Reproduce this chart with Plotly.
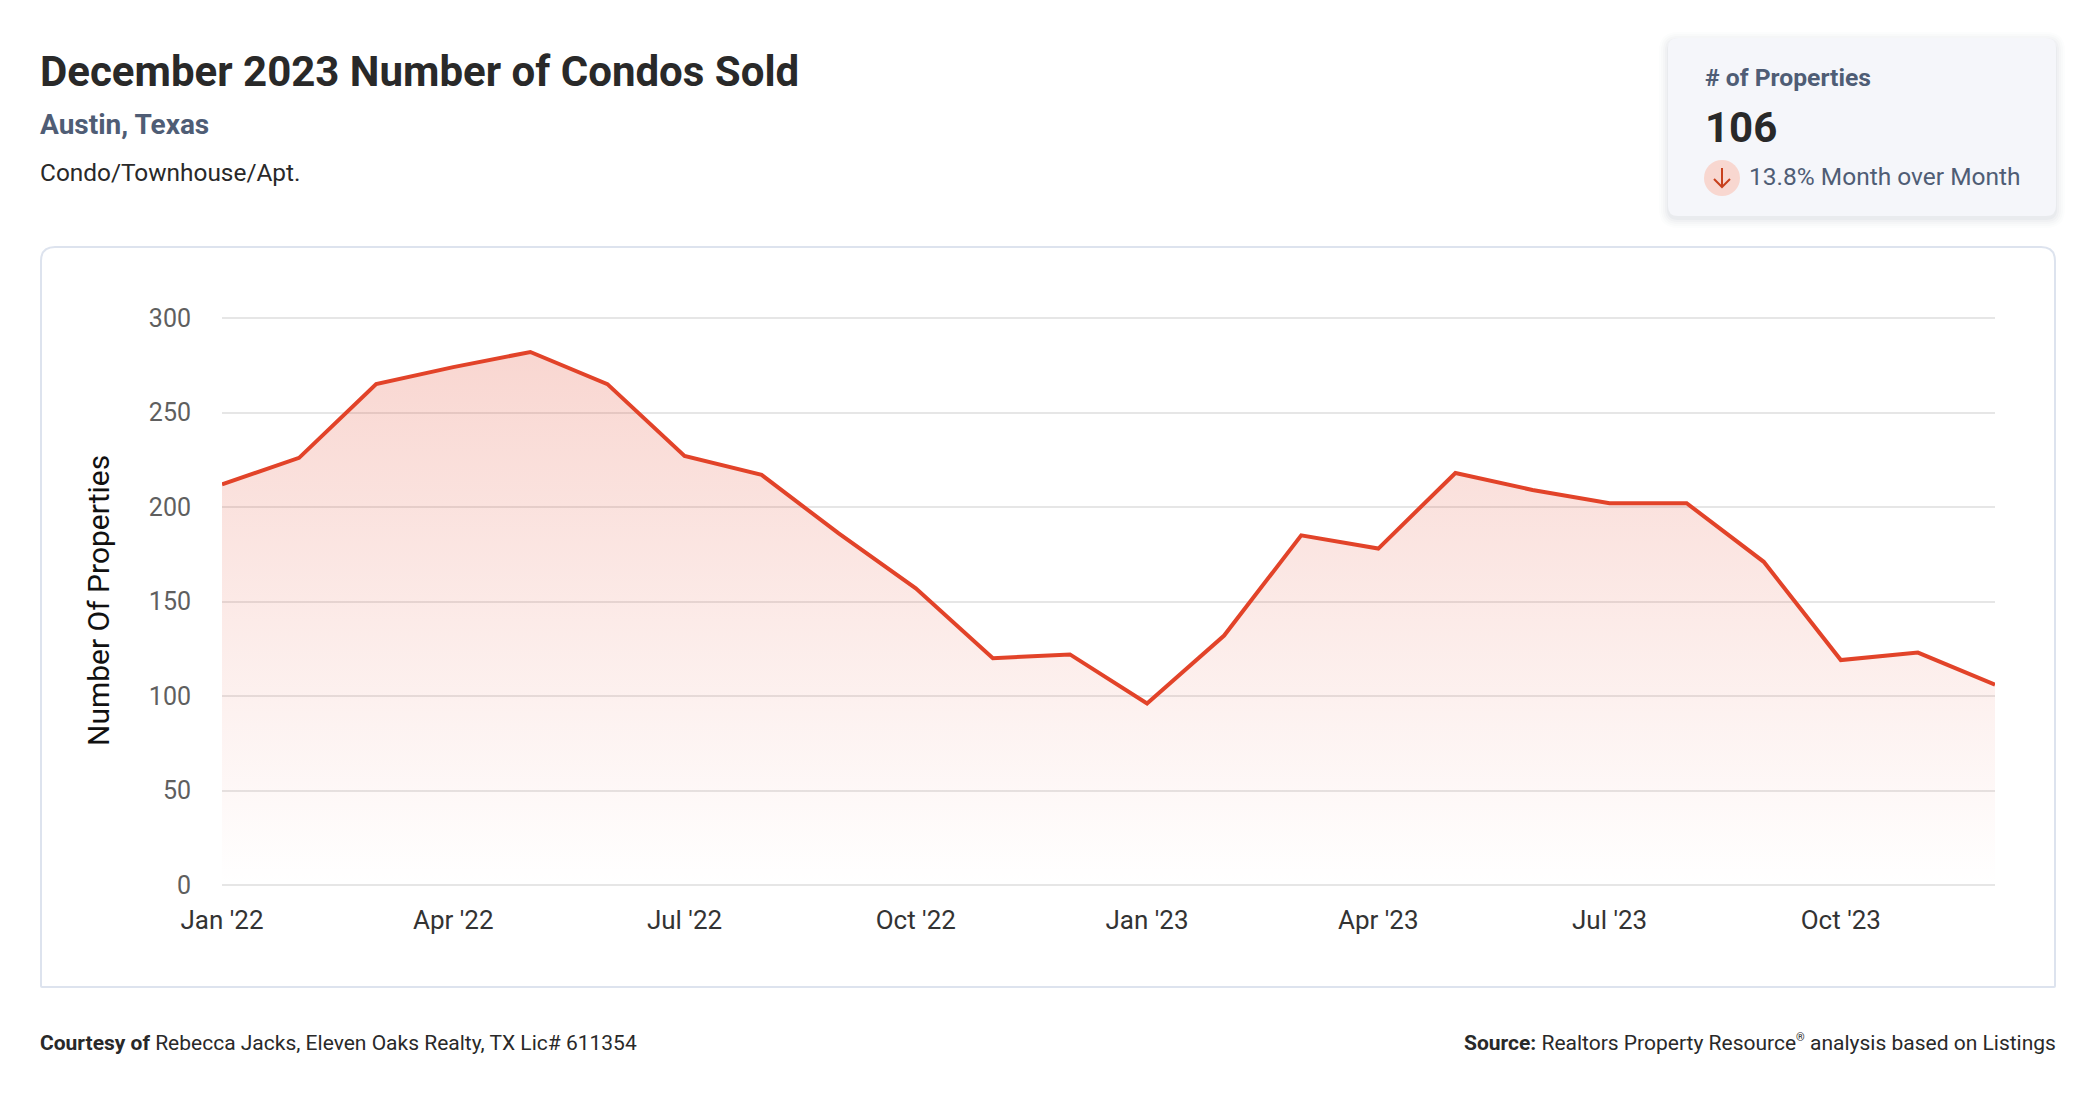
import plotly.graph_objects as go

WIDTH = 2096
HEIGHT = 1100

months = ["Jan '22", "Feb '22", "Mar '22", "Apr '22", "May '22", "Jun '22", "Jul '22", "Aug '22",
          "Sep '22", "Oct '22", "Nov '22", "Dec '22", "Jan '23", "Feb '23", "Mar '23", "Apr '23",
          "May '23", "Jun '23", "Jul '23", "Aug '23", "Sep '23", "Oct '23", "Nov '23", "Dec '23"]
properties = [212, 226, 265, 274, 282, 265, 227, 217, 186, 157, 120, 122,
              96, 132, 185, 178, 218, 209, 202, 202, 171, 119, 123, 106]
y_ticks = [0, 50, 100, 150, 200, 250, 300]
x_ticks = months[::3]


def fx(x):
    return x / WIDTH


def fy(y):
    return 1 - y / HEIGHT


def rounded_rect(x0, y0, x1, y1, r, r_bottom=None):
    # path in paper coordinates, built from pixel positions
    rb = r if r_bottom is None else r_bottom
    pts = [
        f"M {fx(x0 + r)} {fy(y0)}", f"L {fx(x1 - r)} {fy(y0)}",
        f"Q {fx(x1)} {fy(y0)} {fx(x1)} {fy(y0 + r)}", f"L {fx(x1)} {fy(y1 - rb)}",
        f"Q {fx(x1)} {fy(y1)} {fx(x1 - rb)} {fy(y1)}", f"L {fx(x0 + rb)} {fy(y1)}",
        f"Q {fx(x0)} {fy(y1)} {fx(x0)} {fy(y1 - rb)}", f"L {fx(x0)} {fy(y0 + r)}",
        f"Q {fx(x0)} {fy(y0)} {fx(x0 + r)} {fy(y0)}", "Z",
    ]
    return " ".join(pts)


def label(text, x, y, size, color, anchor="left", angle=0):
    return dict(text=text, x=fx(x), y=fy(y), xref="paper", yref="paper", xanchor=anchor, yanchor="middle",
                showarrow=False, textangle=angle, font=dict(family="Roboto", size=size, color=color))


fig = go.Figure()

fig.add_trace(go.Scatter(
    x=months, y=properties, mode="lines", fill="tozeroy",
    line=dict(color="#e24329", width=4),
    fillgradient=dict(type="vertical", start=300, stop=0,
                      colorscale=[[0, "rgba(226,67,41,0.23)"], [1, "rgba(226,67,41,0.0)"]]),
    hoverinfo="x+y", showlegend=False,
))

shapes = []

# chart frame
shapes.append(dict(type="path", xref="paper", yref="paper", layer="below",
                   path=rounded_rect(41, 247, 2055, 987, 14, 1),
                   line=dict(color="#dde3ee", width=2), fillcolor="white"))

# card with a soft shadow
for grow, alpha in [(9, 0.012), (7, 0.016), (5, 0.02), (3, 0.025), (1, 0.03)]:
    shapes.append(dict(type="path", xref="paper", yref="paper", layer="below",
                       path=rounded_rect(1668 - grow, 38 - grow + 3, 2056 + grow, 216 + grow + 3, 10 + grow),
                       line=dict(width=0), fillcolor=f"rgba(40,50,80,{alpha})"))
shapes.append(dict(type="path", xref="paper", yref="paper", layer="below",
                   path=rounded_rect(1668, 38, 2056, 216, 10),
                   line=dict(width=0), fillcolor="#f5f6fa"))

# down arrow badge
shapes.append(dict(type="circle", xref="paper", yref="paper", layer="below",
                   x0=fx(1704), x1=fx(1740), y0=fy(196), y1=fy(160),
                   line=dict(width=0), fillcolor="#f8d7d0"))
arrow = (f"M {fx(1722)} {fy(168)} L {fx(1722)} {fy(187)} "
         f"M {fx(1714)} {fy(179)} L {fx(1722)} {fy(187)} L {fx(1730)} {fy(179)}")
shapes.append(dict(type="path", xref="paper", yref="paper", path=arrow,
                   line=dict(color="#c8401c", width=2)))

annotations = [
    label("<b>December 2023 Number of Condos Sold</b>", 38, 71, 42, "#292929"),
    label("<b>Austin, Texas</b>", 38, 124.5, 28, "#4f5d75"),
    label("Condo/Townhouse/Apt.", 38, 173, 24.4, "#292929"),
    label("<b># of Properties</b>", 1703, 77, 24.7, "#4f5d75"),
    label("<b>106</b>", 1703, 127, 42, "#292929"),
    label("13.8% Month over Month", 1747, 177, 24.5, "#4f5d75"),
    label("Number Of Properties", 98, 601, 30, "#111111", anchor="center", angle=-90),
    label("<b>Courtesy of</b> Rebecca Jacks, Eleven Oaks Realty, TX Lic# 611354", 38, 1043, 21, "#292929"),
    label("<b>Source:</b> Realtors Property Resource<sup><span style='font-size:11px'>®</span></sup>"
          " analysis based on Listings", 2058, 1042.5, 21, "#292929", anchor="right"),
]

fig.update_layout(
    width=WIDTH, height=HEIGHT,
    margin=dict(l=0, r=0, t=0, b=0),
    paper_bgcolor="white", plot_bgcolor="rgba(0,0,0,0)",
    font=dict(family="Roboto"),
    shapes=shapes, annotations=annotations,
    xaxis=dict(domain=[fx(222), fx(1995)], type="category", range=[0, 23], automargin=False,
               tickmode="array", tickvals=x_ticks, ticktext=x_ticks,
               showgrid=False, zeroline=False, showline=False,
               ticks="outside", ticklen=10, tickcolor="rgba(0,0,0,0)",
               tickfont=dict(family="Roboto", size=26, color="#333333")),
    # plotly drops gridlines within 1px of the range ends, so pad the range by
    # one unit and grow the domain by the same 1.89px to keep the scale
    yaxis=dict(domain=[fy(886.89), fy(316.11)], range=[-1, 301], automargin=False,
               tickmode="array", tickvals=y_ticks,
               showgrid=True, gridcolor="#e6e6e6", gridwidth=2, zeroline=False, showline=False,
               ticks="outside", ticklen=25, tickcolor="rgba(0,0,0,0)",
               tickfont=dict(family="Roboto", size=25, color="#5f5f5f")),
)

fig.write_html("out.html", config=dict(displayModeBar=False),
               post_script="document.body.style.margin='0';")
